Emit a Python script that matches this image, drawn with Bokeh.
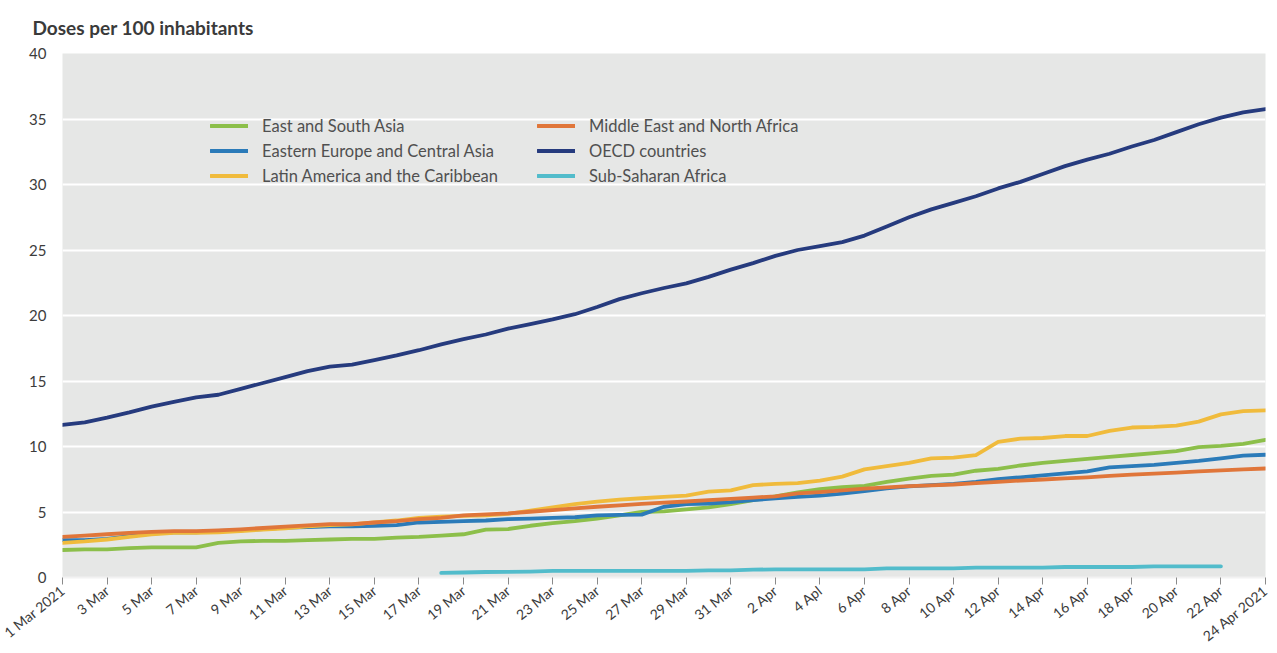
from bokeh.plotting import figure
from bokeh.models import Range1d, FixedTicker, Legend, LegendItem
from bokeh.embed import file_html
from bokeh.resources import INLINE

nan = float("nan")

# Day index: 0 = 1 Mar 2021 ... 54 = 24 Apr 2021
days = list(range(55))

tick_days = list(range(0, 55, 2))
tick_labels = ["1 Mar 2021", "3 Mar", "5 Mar", "7 Mar", "9 Mar", "11 Mar", "13 Mar",
               "15 Mar", "17 Mar", "19 Mar", "21 Mar", "23 Mar", "25 Mar", "27 Mar",
               "29 Mar", "31 Mar", "2 Apr", "4 Apl", "6 Apr", "8 Apr", "10 Apr",
               "12 Apr", "14 Apr", "16 Apr", "18 Apr", "20 Apr", "22 Apr", "24 Apr 2021"]

series_names = ["East and South Asia", "Eastern Europe and Central Asia",
                "Latin America and the Caribbean", "Middle East and North Africa",
                "OECD countries", "Sub-Saharan Africa"]
series_colors = ["#8cbf4a", "#2b7bb9", "#f0bb3c", "#e0763a", "#263b7e", "#52bccb"]

east_south_asia = [2.1, 2.15, 2.15, 2.25, 2.3, 2.3, 2.3, 2.65, 2.75, 2.8,
                   2.8, 2.85, 2.9, 2.95, 2.95, 3.05, 3.1, 3.2, 3.3, 3.65,
                   3.7, 3.95, 4.15, 4.3, 4.5, 4.75, 5.0, 5.05, 5.2, 5.35,
                   5.6, 5.9, 6.2, 6.5, 6.75, 6.9, 7.0, 7.3, 7.55, 7.75,
                   7.85, 8.15, 8.3, 8.55, 8.75, 8.9, 9.05, 9.2, 9.35, 9.5,
                   9.65, 9.95, 10.05, 10.2, 10.5]
eastern_europe = [2.85, 2.85, 2.95, 3.15, 3.35, 3.45, 3.45, 3.55, 3.6, 3.7,
                  3.8, 3.85, 3.9, 3.9, 3.95, 4.0, 4.2, 4.25, 4.3, 4.35,
                  4.45, 4.5, 4.55, 4.6, 4.75, 4.78, 4.8, 5.4, 5.6, 5.65,
                  5.75, 5.9, 6.05, 6.15, 6.25, 6.4, 6.6, 6.8, 6.95, 7.05,
                  7.15, 7.3, 7.5, 7.65, 7.8, 7.95, 8.1, 8.4, 8.5, 8.6,
                  8.75, 8.9, 9.1, 9.3, 9.37]
latin_america = [2.65, 2.75, 2.9, 3.1, 3.3, 3.4, 3.4, 3.45, 3.55, 3.65,
                 3.75, 3.9, 4.0, 4.05, 4.2, 4.35, 4.55, 4.65, 4.7, 4.75,
                 4.85, 5.1, 5.35, 5.6, 5.8, 5.95, 6.05, 6.15, 6.25, 6.55,
                 6.65, 7.05, 7.15, 7.2, 7.4, 7.7, 8.25, 8.5, 8.75, 9.1,
                 9.15, 9.35, 10.35, 10.6, 10.65, 10.8, 10.8, 11.2, 11.45, 11.5,
                 11.6, 11.9, 12.45, 12.7, 12.75]
middle_east = [3.1, 3.2, 3.3, 3.4, 3.48, 3.54, 3.54, 3.6, 3.68, 3.78,
               3.88, 3.98, 4.08, 4.08, 4.2, 4.3, 4.45, 4.55, 4.75, 4.82,
               4.9, 5.02, 5.15, 5.28, 5.4, 5.5, 5.62, 5.72, 5.8, 5.9,
               6.0, 6.1, 6.2, 6.42, 6.52, 6.65, 6.78, 6.88, 6.97, 7.04,
               7.1, 7.2, 7.3, 7.4, 7.48, 7.57, 7.65, 7.76, 7.86, 7.93,
               8.0, 8.1, 8.17, 8.25, 8.32]
oecd = [11.65, 11.85, 12.2, 12.6, 13.05, 13.4, 13.75, 13.95, 14.4, 14.85,
        15.3, 15.75, 16.1, 16.25, 16.6, 16.95, 17.35, 17.8, 18.2, 18.55,
        19.0, 19.35, 19.7, 20.1, 20.65, 21.25, 21.7, 22.1, 22.45, 22.95,
        23.5, 24.0, 24.55, 25.0, 25.3, 25.6, 26.1, 26.8, 27.5, 28.1,
        28.6, 29.1, 29.7, 30.2, 30.8, 31.4, 31.9, 32.35, 32.9, 33.4,
        34.0, 34.6, 35.1, 35.5, 35.75]
sub_saharan = [nan] * 17 + [0.35, 0.38, 0.42, 0.43, 0.45, 0.5, 0.5, 0.5, 0.5, 0.5,
                            0.5, 0.5, 0.55, 0.55, 0.6, 0.62, 0.62, 0.62, 0.62, 0.62,
                            0.7, 0.7, 0.7, 0.7, 0.75, 0.75, 0.75, 0.75, 0.8, 0.8,
                            0.8, 0.8, 0.85, 0.85, 0.85, 0.85] + [nan] * 2

series_values = [east_south_asia, eastern_europe, latin_america, middle_east, oecd, sub_saharan]

title_text = "Doses per 100 inhabitants"

FONT = "Lato"
TEXT = "#3c3c3c"

p = figure(width=1277, height=653, output_backend="svg", toolbar_location=None,
           x_range=Range1d(0, 54), y_range=Range1d(0, 40),
           min_border_left=62, min_border_right=12, min_border_top=53, min_border_bottom=60,
           background_fill_color="#e6e7e6", border_fill_color="white",
           title=title_text)
p.outline_line_color = None

p.title.text_font = FONT
p.title.text_font_style = "bold"
p.title.text_font_size = "19px"
p.title.text_color = "#3a3a3a"
p.title.align = "left"
p.title.offset = -30
p.title.vertical_align = "top"
p.title.text_line_height = 0.3
p.title.standoff = 26

renderers = []
for name, vals, col in zip(series_names, series_values, series_colors):
    r = p.line(days, vals, line_color=col, line_width=3.8, line_cap="round", line_join="round")
    renderers.append(r)

# Axes
p.xaxis.ticker = FixedTicker(ticks=tick_days)
p.xaxis.major_label_overrides = {d: lab for d, lab in zip(tick_days, tick_labels)}
p.xaxis.major_label_orientation = 0.68
p.xaxis.major_label_text_font = FONT
p.xaxis.major_label_text_font_size = "14px"
p.xaxis.major_label_text_color = TEXT
p.xaxis.major_tick_line_color = "#8a8a8a"
p.xaxis.major_tick_out = 7
p.xaxis.major_tick_in = 0
p.xaxis.minor_tick_line_color = None
p.xaxis.axis_line_color = "#f2f2f2"
p.xaxis.axis_line_width = 2
p.xaxis.major_label_standoff = 4

p.yaxis.ticker = FixedTicker(ticks=[0, 5, 10, 15, 20, 25, 30, 35, 40])
p.yaxis.major_label_text_font = FONT
p.yaxis.major_label_text_font_size = "15px"
p.yaxis.major_label_text_color = TEXT
p.yaxis.major_tick_line_color = None
p.yaxis.minor_tick_line_color = None
p.yaxis.axis_line_color = None
p.yaxis.major_label_standoff = 10

p.xgrid.grid_line_color = None
p.ygrid.grid_line_color = "white"
p.ygrid.grid_line_width = 2

def make_legend(idx, loc):
    items = [LegendItem(label=series_names[i], renderers=[renderers[i]]) for i in idx]
    lg = Legend(items=items, location=loc, orientation="vertical",
                background_fill_alpha=0, border_line_color=None,
                padding=0, margin=0, spacing=4,
                glyph_width=38, glyph_height=21, label_height=21,
                label_standoff=14, label_text_font=FONT,
                label_text_font_size="16.5px", label_text_color="#505050")
    p.add_layout(lg, "center")

make_legend([0, 1, 2], (148, 391))
make_legend([3, 4, 5], (475, 391))

open("out.html", "w").write(file_html(p, INLINE))
